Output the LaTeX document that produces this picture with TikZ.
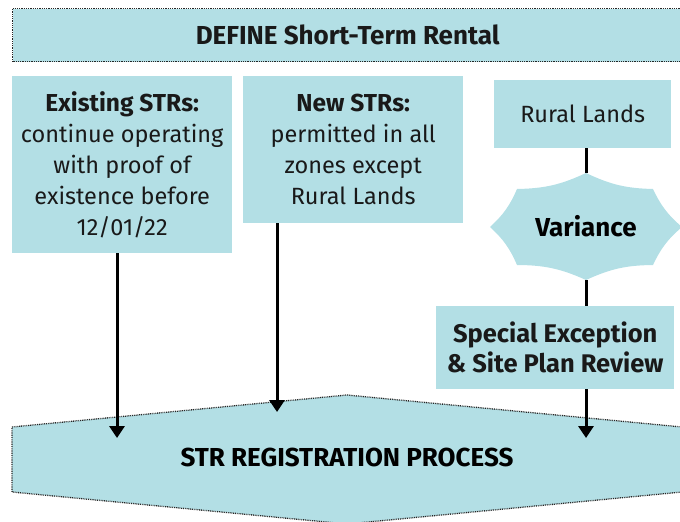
\documentclass[tikz,border=0pt]{standalone}
\usepackage{fontspec}
\setmainfont{Fira Sans}
\usetikzlibrary{arrows.meta}
\definecolor{boxblue}{HTML}{B3DFE5}
\begin{document}
\begin{tikzpicture}[x=1pt,y=-1pt,
  box/.style={fill=boxblue, inner sep=0pt, align=center, text=black!90,
    font=\fontsize{23.5}{31}\selectfont},
  bhead/.style={font=\fontsize{25}{31}\selectfont\bfseries},
  hdr/.style={font=\fontsize{26}{30}\selectfont\bfseries, text=black, align=center},
  conn/.style={line width=3pt, black},
  arr/.style={conn, -{Triangle[width=15pt,length=12pt]}},
  dotline/.style={draw=black!85, line width=1.3pt, dash pattern=on 0.9pt off 0.9pt}]
\useasboundingbox (0,0) rectangle (680,522);
% top bar
\node[box, dotline, minimum width=670pt, minimum height=53pt, anchor=north west,
  font=\fontsize{26}{30}\selectfont\bfseries] (def) at (12,8)
  {DEFINE Short-Term Rental};
% boxes
\node[box, minimum width=220pt, minimum height=177pt, anchor=north west] (exist) at (12,76)
  {{\bfseries\fontsize{24.5}{31}\selectfont Existing STRs:}\\continue operating\\with proof of\\existence before\\12/01/22};
\node[box, minimum width=220pt, minimum height=147pt, anchor=north west] (new) at (243,76)
  {{\bfseries\fontsize{24.5}{31}\selectfont New STRs:}\\permitted in all\\zones except\\Rural Lands};
\node[box, minimum width=177pt, minimum height=68pt, anchor=north west] (rural) at (494,80)
  {Rural Lands};
\node[box, minimum width=238pt, minimum height=83pt, anchor=north west,
  font=\fontsize{25.5}{30}\selectfont\bfseries] (spec) at (436,306)
  {Special Exception\\\& Site Plan Review};
% variance star
\fill[boxblue] (586,173) to[bend right=12] (653,189) to[bend right=12] (682,227)
  to[bend right=12] (653,265) to[bend right=12] (586,280) to[bend right=12] (517,265)
  to[bend right=12] (490,227) to[bend right=12] (517,189) to[bend right=12] cycle;
\node[hdr] (var) at (586,226) {Variance};
\coordinate (vt) at (586,173);
\coordinate (vb) at (586,280);
% registration shape
\path[fill=boxblue, dotline] (12,427) -- (347,395) -- (682,427) -- (682,492) -- (347,524) -- (12,492) -- cycle;
\node[hdr] (reg) at (347,457) {STR REGISTRATION PROCESS};
% connectors
\coordinate (e1) at (117,438);
\coordinate (e2) at (277,412);
\coordinate (e3) at (586,438);
\draw[arr] (exist.south -| e1) -- (e1);
\draw[arr] (new.south -| e2) -- (e2);
\draw[conn] (rural.south -| vt) -- (vt);
\draw[conn] (vb) -- (spec.north -| vb);
\draw[arr] (spec.south -| e3) -- (e3);
\end{tikzpicture}
\end{document}
